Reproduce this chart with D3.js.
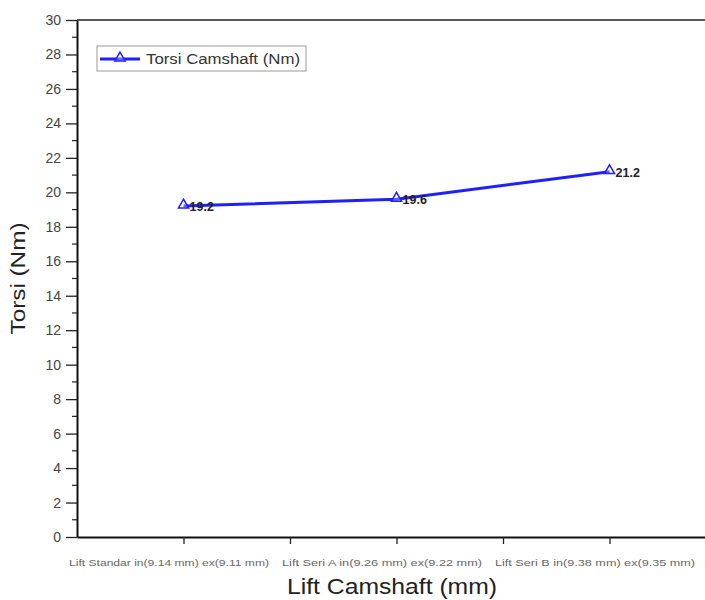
<!DOCTYPE html>
<html>
<head>
<meta charset="utf-8">
<script src="https://cdn.jsdelivr.net/npm/d3@7"></script>
<style>
  body { margin: 0; background: #fff; }
  svg { display: block; font-family: "Liberation Sans", Arial, sans-serif; }
</style>
</head>
<body>
<svg id="chart" width="705" height="600"></svg>
<script>
const categories = [
  'Lift Standar in(9.14 mm) ex(9.11 mm)',
  'Lift Seri A in(9.26 mm) ex(9.22 mm)',
  'Lift Seri B in(9.38 mm) ex(9.35 mm)'
];
const torsi = [19.2, 19.6, 21.2];
const yTicks = [0, 2, 4, 6, 8, 10, 12, 14, 16, 18, 20, 22, 24, 26, 28, 30];
const seriesName = 'Torsi Camshaft (Nm)';

const svg = d3.select('#chart');
const plotLeft = 77, plotRight = 716, plotTop = 20, plotBottom = 537;
const lineColor = '#1f1fff';

// Scales: categories sit at the middle of equal slots
const x = d3.scaleLinear().domain([0, categories.length]).range([plotLeft, plotRight]);
const y = d3.scaleLinear().domain([0, 30]).range([plotBottom, plotTop]);
const catPos = i => x(i + 0.5);

// top frame line
svg.append('line')
  .attr('x1', plotLeft).attr('x2', plotRight).attr('y1', plotTop).attr('y2', plotTop)
  .attr('stroke', '#222').attr('stroke-width', 1.5);

// Y axis
const yAxis = svg.append('g')
  .attr('transform', `translate(${plotLeft},0)`)
  .call(d3.axisLeft(y).tickValues(yTicks).tickSize(11).tickPadding(5).tickSizeOuter(0));
yAxis.select('.domain').attr('stroke', '#111').attr('stroke-width', 2);
yAxis.selectAll('.tick line').attr('stroke', '#222').attr('stroke-width', 1.3);
yAxis.selectAll('text').attr('font-size', 14).attr('fill', '#444');

// minor y ticks
svg.append('g').selectAll('line')
  .data(d3.range(1, 30, 2))
  .enter().append('line')
  .attr('x1', plotLeft - 5).attr('x2', plotLeft)
  .attr('y1', d => y(d)).attr('y2', d => y(d))
  .attr('stroke', '#222').attr('stroke-width', 1.2);

// X axis
const xTickVals = d3.range(0.5, categories.length, 0.5);
const xAxis = svg.append('g')
  .attr('transform', `translate(0,${plotBottom})`)
  .call(d3.axisBottom(x).tickValues(xTickVals).tickSize(7).tickSizeOuter(0)
    .tickFormat(d => Number.isInteger(d - 0.5) ? categories[d - 0.5] : ''));
xAxis.select('.domain').attr('stroke', '#111').attr('stroke-width', 2);
xAxis.selectAll('.tick line').attr('stroke', '#222').attr('stroke-width', 1.3);
xAxis.selectAll('text')
  .attr('font-size', 8.5).attr('fill', '#666')
  .attr('y', 29).attr('dy', 0).attr('dx', -15)
  .each(function () {
    if (this.textContent) d3.select(this).attr('textLength', 200).attr('lengthAdjust', 'spacingAndGlyphs');
  });

// Axis titles
svg.append('text')
  .attr('transform', `translate(25,${(plotTop + plotBottom) / 2}) rotate(-90)`)
  .attr('text-anchor', 'middle')
  .attr('font-size', 21).attr('fill', '#222')
  .attr('textLength', 112).attr('lengthAdjust', 'spacingAndGlyphs')
  .text('Torsi (Nm)');
svg.append('text')
  .attr('x', 392).attr('y', 594)
  .attr('text-anchor', 'middle')
  .attr('font-size', 22).attr('fill', '#222')
  .attr('textLength', 210).attr('lengthAdjust', 'spacingAndGlyphs')
  .text('Lift Camshaft (mm)');

// Line
const line = d3.line().x((d, i) => catPos(i)).y(d => y(d));
svg.append('path')
  .datum(torsi)
  .attr('d', line)
  .attr('fill', 'none')
  .attr('stroke', lineColor)
  .attr('stroke-width', 3);

// Markers
const tri = d3.symbol().type(d3.symbolTriangle).size(45);
svg.append('g').selectAll('path')
  .data(torsi)
  .enter().append('path')
  .attr('d', tri)
  .attr('transform', (d, i) => `translate(${catPos(i)},${y(d) - 1})`)
  .attr('fill', '#fff').attr('fill-opacity', 0.3)
  .attr('stroke', lineColor).attr('stroke-width', 1.5);

// Value labels
svg.append('g').selectAll('text')
  .data(torsi)
  .enter().append('text')
  .attr('x', (d, i) => catPos(i) + 6)
  .attr('y', d => y(d) + 5)
  .attr('font-size', 12.5).attr('font-weight', 'bold').attr('fill', '#222')
  .text(d => d.toFixed(1));

// Legend
const lg = svg.append('g').attr('transform', 'translate(97,46)');
lg.append('rect')
  .attr('width', 209).attr('height', 25)
  .attr('fill', '#fff').attr('stroke', '#999').attr('stroke-width', 1);
lg.append('line')
  .attr('x1', 3).attr('x2', 43).attr('y1', 13).attr('y2', 13)
  .attr('stroke', lineColor).attr('stroke-width', 3);
lg.append('path')
  .attr('d', tri)
  .attr('transform', 'translate(23,12)')
  .attr('fill', '#fff').attr('fill-opacity', 0.3)
  .attr('stroke', lineColor).attr('stroke-width', 1.5);
lg.append('text')
  .attr('x', 49).attr('y', 18)
  .attr('font-size', 14).attr('fill', '#333')
  .attr('textLength', 154).attr('lengthAdjust', 'spacingAndGlyphs')
  .text(seriesName);
</script>
</body>
</html>
